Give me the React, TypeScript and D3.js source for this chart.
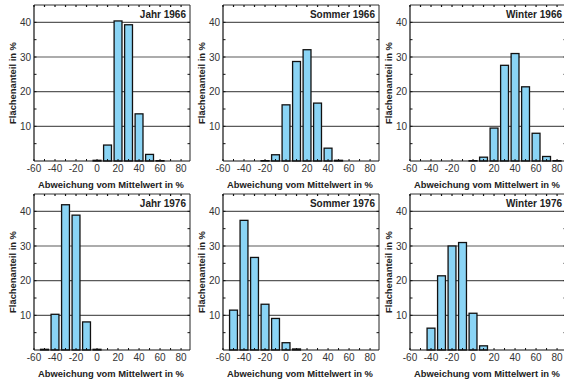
import React from 'react';
import * as d3 from 'd3';

// bin centres (Abweichung vom Mittelwert in %)
const bins = [-50, -40, -30, -20, -10, 0, 10, 20, 30, 40, 50, 60, 70, 80];

const jahr1966 = [0, 0, 0, 0, 0, 0.2, 4.6, 40.4, 39.3, 13.6, 1.9, 0.1, 0, 0];
const sommer1966 = [0, 0, 0, 0.1, 1.8, 16.2, 28.7, 32.1, 16.7, 3.7, 0.2, 0, 0, 0];
const winter1966 = [0, 0, 0, 0, 0, 0.1, 1.1, 9.5, 27.6, 31.0, 21.4, 8.0, 1.3, 0.1];
const jahr1976 = [0.2, 10.3, 41.9, 38.9, 8.1, 0.2, 0, 0, 0, 0, 0, 0, 0, 0];
const sommer1976 = [11.5, 37.4, 26.7, 13.2, 9.1, 2.1, 0.3, 0, 0, 0, 0, 0, 0, 0];
const winter1976 = [0, 6.3, 21.4, 30.0, 31.0, 10.6, 1.2, 0, 0, 0, 0, 0, 0, 0];

const titles = ['Jahr 1966', 'Sommer 1966', 'Winter 1966', 'Jahr 1976', 'Sommer 1976', 'Winter 1976'];
const series = [jahr1966, sommer1966, winter1966, jahr1976, sommer1976, winter1976];

const xTicks = [-60, -40, -20, 0, 20, 40, 60, 80];
const yTicks = [10, 20, 30, 40];

const xTitle = 'Abweichung vom Mittelwert in %';
const yTitle = 'Flächenanteil in %';

const W = 564;
const H = 380;
const lefts = [34, 223, 410];
const tops = [5, 194];
const pw = 156;
const ph = 156;
const font = '"Liberation Sans", Arial, Helvetica, sans-serif';

type PanelProps = { values: number[]; title: string; left: number; top: number };

const Panel = ({ values, title, left, top }: PanelProps) => {
  const x = d3.scaleLinear().domain([-60, 88.5]).range([0, pw]);
  const y = d3.scaleLinear().domain([0, 45]).range([ph, 0]);
  const bw = x(7.5) - x(0);
  const topTicks = d3.range(-60, 90, 10);
  const minorY = d3.range(5, 45, 5);

  return (
    <g transform={`translate(${left},${top})`} fontFamily={font}>
      {yTicks.map(t => (
        <line key={'g' + t} x1={0} x2={pw} y1={y(t)} y2={y(t)} stroke="#5a5a5a" strokeWidth={1.1} />
      ))}
      {values.map((v, i) =>
        v > 0 ? (
          <rect
            key={i}
            x={x(bins[i]) - bw / 2}
            y={y(v)}
            width={bw}
            height={y(0) - y(v)}
            fill="#8ad4f5"
            stroke="#111"
            strokeWidth={1.3}
          />
        ) : null
      )}
      {/* frame */}
      <line x1={0} x2={pw} y1={0} y2={0} stroke="#333" strokeWidth={1} />
      <line x1={pw} x2={pw} y1={0} y2={ph} stroke="#222" strokeWidth={1} />
      <line x1={0} x2={0} y1={0} y2={ph} stroke="#111" strokeWidth={1.2} />
      <line x1={0} x2={pw} y1={ph} y2={ph} stroke="#111" strokeWidth={1.2} />
      {topTicks.map(t => (
        <line key={'tt' + t} x1={x(t)} x2={x(t)} y1={0} y2={2} stroke="#111" strokeWidth={1.2} />
      ))}
      {topTicks.map(t => (
        <line key={'bt' + t} x1={x(t)} x2={x(t)} y1={ph} y2={ph - 2} stroke="#111" strokeWidth={1} />
      ))}
      {minorY.map(t => (
        <g key={'my' + t}>
          <line x1={0} x2={2.5} y1={y(t)} y2={y(t)} stroke="#111" strokeWidth={1} />
          <line x1={pw} x2={pw - 2.5} y1={y(t)} y2={y(t)} stroke="#111" strokeWidth={1} />
        </g>
      ))}
      {yTicks.map(t => (
        <text key={'yl' + t} x={-3} y={y(t)} dy="0.35em" textAnchor="end" fontSize={10} fill="#333">
          {t}
        </text>
      ))}
      {xTicks.map(t => (
        <text key={'xl' + t} x={x(t)} y={ph + 11} textAnchor="middle" fontSize={10} fill="#333">
          {t}
        </text>
      ))}
      <text x={pw / 2 - 1} y={ph + 27} textAnchor="middle" fontSize={9.4} fontWeight="bold" fill="#222">
        {xTitle}
      </text>
      <text
        transform={`translate(-21,${ph / 2}) rotate(-90)`}
        textAnchor="middle"
        dy="0.35em"
        fontSize={9.4}
        fontWeight="bold"
        fill="#222"
      >
        {yTitle}
      </text>
      <text x={pw - 4} y={13} textAnchor="end" fontSize={10} fontWeight="bold" fill="#222">
        {title}
      </text>
    </g>
  );
};

export default function App() {
  return (
    <svg
      width={W}
      height={H}
      style={{ position: 'absolute', left: 0, top: 0, background: '#fff' }}
    >
      <rect width={W} height={H} fill="#fff" />
      {series.map((vals, i) => (
        <Panel
          key={titles[i]}
          values={vals}
          title={titles[i]}
          left={lefts[i % 3]}
          top={tops[Math.floor(i / 3)]}
        />
      ))}
    </svg>
  );
}
